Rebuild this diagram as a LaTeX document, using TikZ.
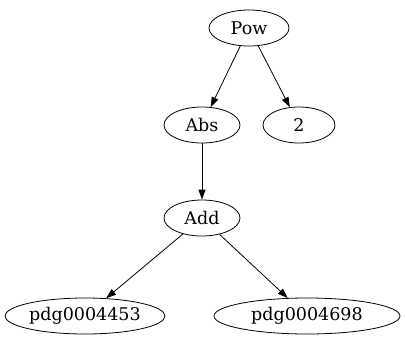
\documentclass[tikz,border=0pt]{standalone}
\usepackage{fontspec}
\setmainfont{DejaVu Serif}
\usetikzlibrary{positioning,arrows.meta,shapes.geometric}
\tikzset{
  tnode/.style={ellipse, draw, line width=0.8pt, minimum height=36bp,
                inner sep=0pt, font=\fontsize{17.5bp}{20bp}\selectfont},
  tedge/.style={draw, line width=0.8pt, -{Triangle[length=10bp,width=7bp]}},
}
\begin{document}
\begin{tikzpicture}[x=1bp,y=-1bp]
\useasboundingbox (0,0) rectangle (405,347);
% expression tree
\node[tnode,minimum width=80bp] (pow) at (249,28) {Pow};
\node[tnode,minimum width=76bp] (abs) at (202,125) {Abs};
\node[tnode,minimum width=72bp] (two) at (299,125) {2};
\node[tnode,minimum width=76bp] (add) at (202,218) {Add};
\node[tnode,minimum width=160bp] (pa) at (85,316) {pdg0004453};
\node[tnode,minimum width=186bp] (pb) at (307,316) {pdg0004698};
\foreach \a/\b in {pow/abs, pow/two, abs/add, add/pa, add/pb}
  {\draw[tedge] (\a) -- (\b);}
\end{tikzpicture}
\end{document}
